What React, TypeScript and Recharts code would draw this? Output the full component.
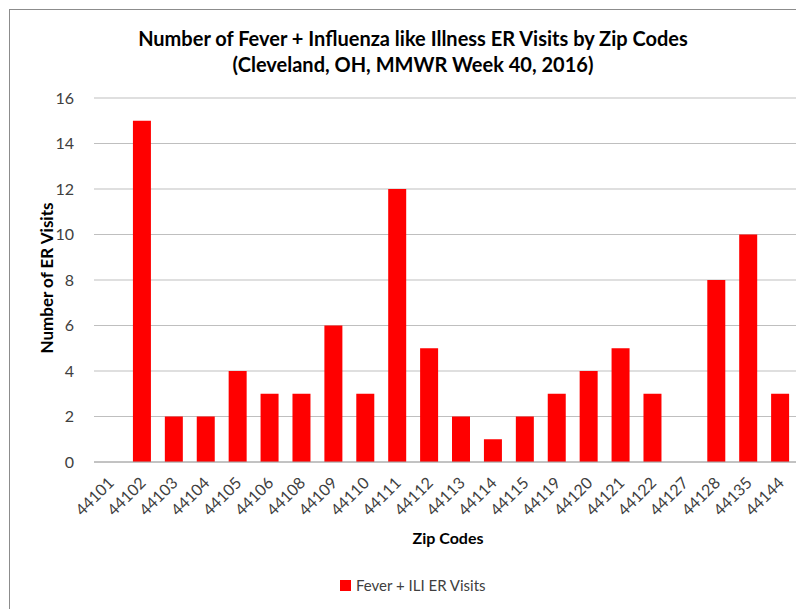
import { BarChart, Bar, XAxis, YAxis, CartesianGrid } from 'recharts';

const zipCodes = [
  '44101', '44102', '44103', '44104', '44105', '44106', '44108', '44109', '44110', '44111', '44112',
  '44113', '44114', '44115', '44119', '44120', '44121', '44122', '44127', '44128', '44135', '44144',
];
const visits = [0, 15, 2, 2, 4, 3, 3, 6, 3, 12, 5, 2, 1, 2, 3, 4, 5, 3, 0, 8, 10, 3];
const yTicks = [0, 2, 4, 6, 8, 10, 12, 14, 16];

const chartData = zipCodes.map((zip, i) => ({ zip, visits: visits[i] }));

const FONT = 'Lato, "Liberation Sans", sans-serif';

function ZipTick(props: any) {
  const { x, y, payload } = props;
  return (
    <text
      x={x + 5}
      y={y + 14}
      transform={`rotate(-45, ${x + 5}, ${y + 14})`}
      textAnchor="end"
      fontSize={16}
      fill="#404040"
      fontFamily={FONT}
    >
      {payload.value}
    </text>
  );
}

export default function App() {
  return (
    <div
      style={{
        position: 'relative',
        width: 800,
        height: 605,
        marginLeft: 1,
        marginTop: 1,
        borderLeft: '1px solid #8c8c8c',
        borderTop: '1px solid #8c8c8c',
        fontFamily: FONT,
        background: '#fff',
      }}
    >
      <div
        style={{
          position: 'absolute',
          left: 0,
          width: 806,
          top: 15,
          textAlign: 'center',
          fontWeight: 'bold',
          fontSize: 20,
          lineHeight: '26px',
          color: '#000',
        }}
      >
        Number of Fever + Influenza like Illness ER Visits by Zip Codes
        <br />
        (Cleveland, OH, MMWR Week 40, 2016)
      </div>
      <div
        style={{
          position: 'absolute',
          left: 36,
          top: 268,
          transform: 'translate(-50%, -50%) rotate(-90deg)',
          fontWeight: 'bold',
          fontSize: 17,
          whiteSpace: 'nowrap',
          color: '#000',
        }}
      >
        Number of ER Visits
      </div>
      <BarChart
        width={794}
        height={598}
        data={chartData}
        margin={{ top: 88, right: 8, left: 0, bottom: 66 }}
        barCategoryGap="22%"
      >
        <CartesianGrid vertical={false} stroke="#bfbfbf" />
        <XAxis
          dataKey="zip"
          interval={0}
          tick={<ZipTick />}
          tickLine={false}
          axisLine={{ stroke: '#a6a6a6' }}
          height={80}
        />
        <YAxis
          width={84}
          domain={[0, 16]}
          ticks={yTicks}
          tickLine={false}
          axisLine={false}
          tickMargin={14}
          tick={{ fontSize: 16, fill: '#404040', fontFamily: FONT }}
        />
        <Bar dataKey="visits" fill="#ff0000" isAnimationActive={false} />
      </BarChart>
      <div
        style={{
          position: 'absolute',
          left: 0,
          width: 806,
          top: 518,
          textAlign: 'center',
          fontWeight: 'bold',
          fontSize: 16,
          color: '#000',
          paddingLeft: 70,
          boxSizing: 'border-box',
        }}
      >
        Zip Codes
      </div>
      <div
        style={{
          position: 'absolute',
          left: 330,
          top: 566,
          display: 'flex',
          alignItems: 'center',
          fontSize: 15,
          color: '#404040',
        }}
      >
        <span style={{ display: 'inline-block', width: 11, height: 11, background: '#ff0000', marginRight: 5 }} />
        Fever + ILI ER Visits
      </div>
    </div>
  );
}
